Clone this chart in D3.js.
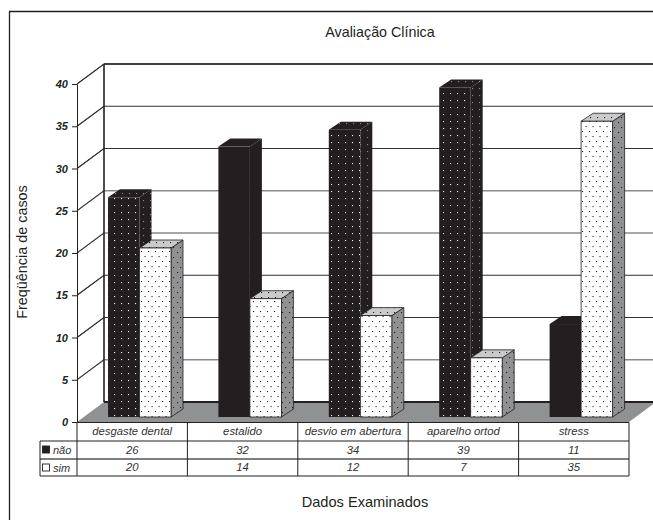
<!DOCTYPE html>
<html>
<head>
<meta charset="utf-8">
<title>Avaliação Clínica</title>
<script src="https://cdn.jsdelivr.net/npm/d3@7"></script>
<style>
body { margin: 0; background: #fff; }
text { font-family: "Liberation Sans", Arial, sans-serif; fill: #231f20; }
</style>
</head>
<body>
<script>
// data
var categories = ["desgaste dental", "estalido", "desvio em abertura", "aparelho ortod", "stress"];
var seriesNames = ["não", "sim"];
var naoValues = [26, 32, 34, 39, 11];
var simValues = [20, 14, 12, 7, 35];
var yTicks = [0, 5, 10, 15, 20, 25, 30, 35, 40];

var ink = "#231f20";
var wallDx = 27, wallDy = -20;   // front plane -> back wall
var barDx = 7, barDy = -5;       // front plane -> front of bars
var sideDx = 12, sideDy = -8;    // depth of one bar

var svg = d3.select("body").append("svg")
	.attr("width", 653)
	.attr("height", 520)
	.style("display", "block");

var x = d3.scaleBand().domain(categories).range([77, 629]);
var y = d3.scaleLinear().domain([0, 40]).range([422, 84]);
var xSeries = d3.scaleBand().domain(seriesNames).range([24, 87]);

// dot patterns
var defs = svg.append("defs");

var addPattern = function (id, bg, dot, w, h, dots) {
	var p = defs.append("pattern")
		.attr("id", id)
		.attr("patternUnits", "userSpaceOnUse")
		.attr("width", w)
		.attr("height", h);
	p.append("rect").attr("width", w).attr("height", h).attr("fill", bg);
	dots.forEach(function (d) {
		p.append("rect")
			.attr("x", d[0]).attr("y", d[1])
			.attr("width", 1.1).attr("height", 1.1)
			.attr("fill", dot);
	});
};

addPattern("blackDots", ink, "#fff", 7, 7, [[2, 2]]);
addPattern("blackSide", ink, "#8c8c8c", 7, 7, [[3, 4]]);
addPattern("blackSolid", ink, "#8c8c8c", 30, 7, [[29, 4]]);
addPattern("whiteDots", "#fff", ink, 7, 10, [[1, 1], [4.5, 6]]);
addPattern("graySide", "#909193", ink, 7, 10, [[2, 2], [5, 7]]);
addPattern("lightTop", "#c9cacb", ink, 7, 5, [[2, 2]]);

// frame
svg.append("path")
	.attr("d", "M9.5,520V11.5H653")
	.attr("fill", "none")
	.attr("stroke", ink)
	.attr("stroke-width", 1.3);

// grid on the back wall and the diagonal on the side wall
var gridColor = function (v) {
	if (v === 25 || v === 20 || v === 5) return "#8a8a8a";
	return "#333";
};

svg.selectAll(".grid")
	.data(yTicks.filter(function (d) { return d > 0; }))
	.enter()
	.append("path")
	.attr("class", "grid")
	.attr("fill", "none")
	.attr("stroke", gridColor)
	.attr("stroke-width", function (d) { return gridColor(d) === "#333" ? 1.1 : 1.4; })
	.attr("d", function (d) {
		return "M77," + y(d) + "L" + (77 + wallDx) + "," + (y(d) + wallDy) + "H653";
	});

svg.selectAll(".gridSide")
	.data(yTicks.filter(function (d) { return d > 0; }))
	.enter()
	.append("line")
	.attr("x1", 77).attr("y1", function (d) { return y(d); })
	.attr("x2", 77 + wallDx).attr("y2", function (d) { return y(d) + wallDy; })
	.attr("stroke", "#333")
	.attr("stroke-width", 1);

// back wall edge
svg.append("line")
	.attr("x1", 77 + wallDx).attr("y1", y(40) + wallDy)
	.attr("x2", 77 + wallDx).attr("y2", y(0) + wallDy)
	.attr("stroke", ink)
	.attr("stroke-width", 1.6);

svg.append("line")
	.attr("x1", 77 + wallDx).attr("y1", y(40) + wallDy)
	.attr("x2", 653).attr("y2", y(40) + wallDy)
	.attr("stroke", ink)
	.attr("stroke-width", 1.6);

// floor
svg.append("path")
	.attr("d", "M77," + y(0) + "L" + (77 + wallDx) + "," + (y(0) + wallDy) + "H656L629," + y(0) + "Z")
	.attr("fill", "#909193");

svg.append("line")
	.attr("x1", 77 + wallDx).attr("y1", y(0) + wallDy)
	.attr("x2", 653).attr("y2", y(0) + wallDy)
	.attr("stroke", ink)
	.attr("stroke-width", 1.8);

// bars, both series sit in one row
var barPoly = function (pts) {
	return pts.map(function (p) { return p.join(","); }).join(" ");
};

var drawBars = function (name, values, front, side, top) {
	var g = svg.append("g").selectAll("g")
		.data(values)
		.enter()
		.append("g");

	var left = function (i) { return x(categories[i]) + barDx + xSeries(name); };
	var bw = xSeries.bandwidth();
	var base = y(0) + barDy;
	var topY = function (d) { return y(d) + barDy; };

	g.append("polygon")
		.attr("points", function (d, i) {
			var r = left(i) + bw;
			return barPoly([[r, topY(d)], [r + sideDx, topY(d) + sideDy], [r + sideDx, base + sideDy], [r, base]]);
		})
		.attr("fill", function (d, i) { return side(i); })
		.attr("stroke", name === "sim" ? "#231f20" : "none")
		.attr("stroke-width", 0.8);

	g.append("polygon")
		.attr("points", function (d, i) {
			var l = left(i), r = l + bw;
			return barPoly([[l, topY(d)], [l + sideDx, topY(d) + sideDy], [r + sideDx, topY(d) + sideDy], [r, topY(d)]]);
		})
		.attr("fill", function (d, i) { return top(i); })
		.attr("stroke", name === "sim" ? "#231f20" : "none")
		.attr("stroke-width", 0.8);

	g.append("rect")
		.attr("x", function (d, i) { return left(i); })
		.attr("y", topY)
		.attr("width", bw)
		.attr("height", function (d) { return y(0) - y(d); })
		.attr("fill", function (d, i) { return front(i); })
		.attr("stroke", name === "sim" ? "#231f20" : "none")
		.attr("stroke-width", 0.8);
};

// estalido and stress came out nearly solid in the print
var isSolid = function (i) { return i === 1 || i === 4; };

drawBars("não", naoValues,
	function (i) { return isSolid(i) ? ink : "url(#blackDots)"; },
	function (i) { return isSolid(i) ? "url(#blackSolid)" : "url(#blackSide)"; },
	function (i) { return isSolid(i) ? ink : "url(#blackSide)"; });

drawBars("sim", simValues,
	function () { return "url(#whiteDots)"; },
	function () { return "url(#graySide)"; },
	function () { return "url(#lightTop)"; });

// y axis
var yAxis = d3.axisLeft(y)
	.tickValues(yTicks)
	.tickSize(5)
	.tickPadding(4)
	.tickSizeOuter(0);

var axisG = svg.append("g")
	.attr("transform", "translate(77,0)")
	.call(yAxis);

axisG.selectAll("path, line").attr("stroke", ink).attr("stroke-width", 1);
axisG.selectAll("text")
	.style("font-family", '"Liberation Sans", Arial, sans-serif')
	.style("font-size", "11px")
	.style("font-weight", "bold")
	.style("font-style", "italic")
	.style("fill", ink);

// data table
var rowY = [422.5, 441, 459, 476];
var tableLeft = 40, tableRight = 629;

var table = svg.append("g")
	.attr("stroke", ink)
	.attr("stroke-width", 1);

table.append("line").attr("x1", 77).attr("x2", tableRight).attr("y1", rowY[0]).attr("y2", rowY[0]);
table.append("line").attr("x1", tableLeft).attr("x2", tableRight).attr("y1", rowY[1]).attr("y2", rowY[1]);
table.append("line").attr("x1", tableLeft).attr("x2", tableRight).attr("y1", rowY[2]).attr("y2", rowY[2]).attr("stroke", "#555").attr("stroke-width", 1.3);
table.append("line").attr("x1", tableLeft).attr("x2", tableRight).attr("y1", rowY[3]).attr("y2", rowY[3]);
table.append("line").attr("x1", tableLeft).attr("x2", tableLeft).attr("y1", rowY[1]).attr("y2", rowY[3]);

x.domain().forEach(function (c) {
	table.append("line")
		.attr("x1", x(c)).attr("x2", x(c))
		.attr("y1", rowY[0]).attr("y2", rowY[3]);
});
table.append("line")
	.attr("x1", tableRight).attr("x2", tableRight)
	.attr("y1", rowY[0]).attr("y2", rowY[3]);

var cellText = function (cls, labels, baseline) {
	svg.selectAll("." + cls)
		.data(labels)
		.enter()
		.append("text")
		.attr("class", cls)
		.attr("x", function (d, i) { return x(categories[i]) + x.bandwidth() / 2; })
		.attr("y", baseline)
		.attr("text-anchor", "middle")
		.style("font-size", "11.3px")
		.style("font-style", "italic")
		.style("fill", "#333")
		.text(function (d) { return d; });
};

cellText("catLabel", categories, 435);
cellText("naoCell", naoValues, 454);
cellText("simCell", simValues, 471);

// legend keys in the table
var legendFill = [ink, "#fff"];
seriesNames.forEach(function (name, i) {
	var rowTop = rowY[i + 1];
	svg.append("rect")
		.attr("x", 42.5).attr("y", rowTop + 5)
		.attr("width", 7).attr("height", 7)
		.attr("fill", legendFill[i])
		.attr("stroke", ink)
		.attr("stroke-width", 0.9);
	svg.append("text")
		.attr("x", 53).attr("y", rowTop + 13)
		.style("font-size", "11px")
		.style("font-style", "italic")
		.style("fill", "#333")
		.text(name);
});

// titles
svg.append("text")
	.attr("x", 380).attr("y", 37)
	.attr("text-anchor", "middle")
	.style("font-size", "14.3px")
	.text("Avaliação Clínica");

svg.append("text")
	.attr("x", 365).attr("y", 507)
	.attr("text-anchor", "middle")
	.style("font-size", "14.6px")
	.text("Dados Examinados");

svg.append("text")
	.attr("transform", "translate(27,252) rotate(-90)")
	.attr("text-anchor", "middle")
	.style("font-size", "14.4px")
	.text("Freqüência de casos");
</script>
</body>
</html>
